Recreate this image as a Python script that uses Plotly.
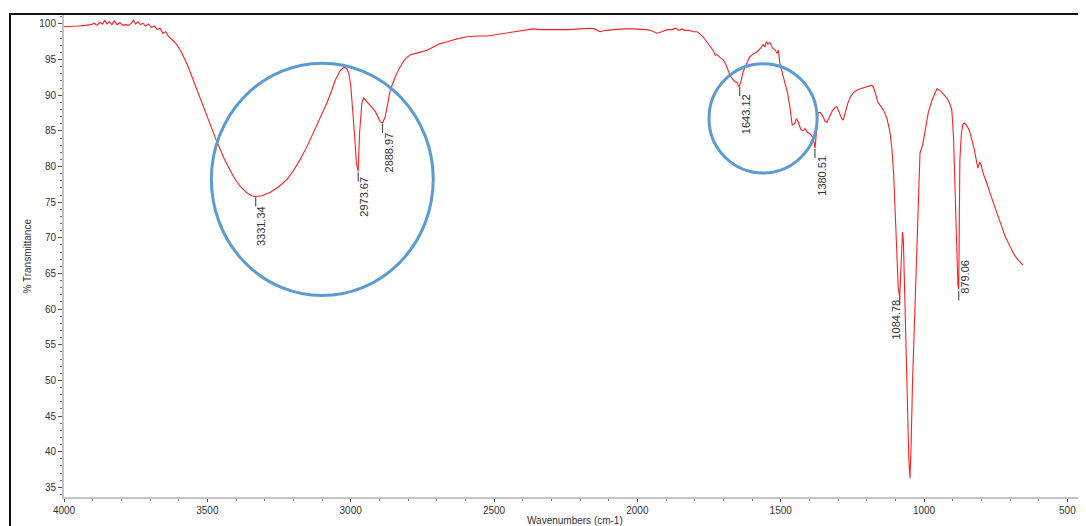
import plotly.graph_objects as go

# ---- data ----
wavenumber = [
    4000, 3975, 3950, 3925, 3905, 3895, 3885, 3875, 3865, 3858, 3850, 3842, 3833, 3825, 3815, 3805,
    3795, 3785, 3775, 3765, 3758, 3750, 3742, 3733, 3725, 3715, 3705, 3695, 3685, 3675, 3665, 3655,
    3645, 3635, 3625, 3615, 3605, 3590, 3570, 3548, 3524, 3495, 3469, 3440, 3409, 3385, 3362, 3345,
    3331, 3310, 3280, 3250, 3222, 3200, 3176, 3150, 3130, 3105, 3083, 3065, 3054, 3036, 3024, 3015,
    3007, 3000, 2995, 2987, 2980, 2974, 2969, 2961, 2955, 2948, 2940, 2932, 2926, 2914, 2905, 2897,
    2889, 2880, 2870, 2862, 2850, 2839, 2827, 2815, 2804, 2790, 2769, 2750, 2733, 2710, 2690, 2663,
    2630, 2593, 2560, 2524, 2490, 2454, 2420, 2390, 2363, 2340, 2300, 2269, 2240, 2200, 2165, 2150,
    2130, 2110, 2080, 2050, 2015, 1990, 1970, 1955, 1940, 1931, 1915, 1896, 1880, 1865, 1855, 1845,
    1835, 1820, 1805, 1792, 1782, 1771, 1760, 1746, 1736, 1728, 1722, 1712, 1701, 1690, 1677, 1668,
    1660, 1652, 1647, 1643, 1638, 1631, 1620, 1608, 1595, 1582, 1570, 1561, 1555, 1550, 1545, 1538,
    1528, 1520, 1513, 1508, 1503, 1494, 1485, 1476, 1468, 1460, 1452, 1445, 1438, 1430, 1422, 1415,
    1407, 1398, 1390, 1385, 1380, 1375, 1370, 1362, 1352, 1345, 1339, 1330, 1320, 1310, 1304, 1296,
    1288, 1282, 1275, 1265, 1255, 1245, 1230, 1215, 1200, 1190, 1182, 1175, 1168, 1161, 1150, 1140,
    1130, 1120, 1112, 1106, 1100, 1095, 1090, 1085, 1082, 1078, 1075, 1072, 1068, 1063, 1058, 1053,
    1049, 1045, 1040, 1035, 1031, 1026, 1020, 1014, 1005, 995, 985, 972, 962, 955, 945, 930,
    920, 910, 903, 897, 893, 889, 886, 882, 879, 877, 875, 870, 865, 860, 852, 842,
    835, 824, 816, 812, 806, 801, 795, 788, 778, 765, 750, 735, 716, 700, 685, 670,
    655,
]
transmittance = [
    99.6, 99.6, 99.7, 99.8, 99.9, 100.1, 99.8, 100.2, 100.0, 100.5, 100.0, 100.3, 99.9, 100.4, 99.9, 100.2,
    99.8, 99.9, 99.8, 100.1, 100.5, 100.0, 100.3, 99.9, 100.1, 99.7, 100.0, 99.5, 99.7, 99.2, 99.4, 98.7,
    98.9, 98.2, 97.9, 97.5, 97.0, 96.0, 94.3, 92.0, 89.6, 86.5, 83.7, 81.0, 78.6, 77.2, 76.3, 75.9,
    75.8, 75.9, 76.4, 77.2, 78.2, 79.4, 81.0, 83.0, 84.7, 86.8, 88.9, 90.8, 92.1, 93.5, 93.9, 93.8,
    93.1, 91.5, 89.3, 84.7, 80.5, 79.3, 84.7, 88.9, 89.6, 89.3, 89.0, 88.6, 88.3, 87.7, 87.0, 86.3,
    86.1, 86.9, 89.0, 90.7, 92.0, 93.1, 94.0, 94.8, 95.3, 95.7, 95.9, 96.1, 96.3, 96.8, 97.2, 97.5,
    97.9, 98.2, 98.3, 98.3, 98.5, 98.7, 98.9, 99.1, 99.3, 99.2, 99.2, 99.1, 99.2, 99.3, 99.4, 99.3,
    98.9, 99.1, 99.2, 99.3, 99.3, 99.3, 99.2, 99.1, 98.8, 98.7, 98.9, 99.2, 99.2, 99.4, 99.1, 99.3,
    99.1, 99.1, 98.9, 98.9, 98.6, 98.2, 97.6, 96.8, 96.3, 95.6, 95.7, 95.3, 95.0, 94.2, 92.8, 92.3,
    91.9, 91.8, 91.2, 91.4, 92.0, 93.3, 94.3, 95.4, 95.8, 96.1, 96.6, 97.1, 96.8, 97.5, 97.2, 97.4,
    96.6, 96.4, 95.9, 96.3, 94.5, 93.2, 91.9, 90.3, 88.4, 85.8, 86.0, 86.7, 86.2, 85.2, 85.0, 85.3,
    84.8, 84.6, 84.2, 83.6, 82.6, 85.0, 87.5, 87.6, 87.0, 86.3, 86.2, 86.9, 87.8, 88.3, 88.4, 87.6,
    86.8, 86.5, 87.6, 89.0, 89.9, 90.4, 90.8, 91.0, 91.1, 91.3, 91.4, 91.0, 89.8, 89.0, 88.4, 87.8,
    86.8, 85.1, 82.5, 79.0, 73.0, 67.0, 63.0, 61.7, 64.5, 69.5, 70.8, 69.5, 63.0, 54.0, 45.0, 39.0,
    36.3, 41.0, 50.0, 56.0, 61.3, 68.0, 76.0, 81.9, 83.0, 85.5, 87.6, 89.3, 90.4, 90.9, 90.7, 90.0,
    89.6, 88.8, 87.9, 84.0, 78.1, 71.0, 66.0, 63.5, 62.8, 70.0, 80.9, 84.5, 85.9, 86.1, 85.8, 85.1,
    84.0, 82.3, 80.5, 79.8, 80.6, 80.3, 79.2, 78.3, 77.3, 75.7, 74.0, 72.4, 70.1, 68.8, 67.6, 66.8,
    66.2,
]

# peak labels: label text, peak position, peak minimum, label centre
peak_labels = ["3331.34", "2973.67", "2888.97", "1643.12", "1380.51", "1084.78", "879.06"]
peak_wn = [3331.34, 2973.67, 2888.97, 1643.12, 1380.51, 1084.78, 879.06]
peak_min = [75.8, 79.3, 86.1, 91.3, 82.6, 61.9, 62.6]
label_y = [71.6, 75.8, 81.9, 87.3, 78.7, 58.5, 64.5]
label_shift = [6, 6, 6, 7, 7, -4, 6]

x_ticks = [4000, 3500, 3000, 2500, 2000, 1500, 1000, 500]
y_ticks = [35, 40, 45, 50, 55, 60, 65, 70, 75, 80, 85, 90, 95, 100]

FONT = "Liberation Sans, Arial, sans-serif"

# the page body adds an 8px offset, so the figure is sized 8px smaller
W, H = 1078, 518
ML, MR, MT, MB = 56, 0, 7, 29
PW, PH = W - ML - MR, H - MT - MB

fig = go.Figure()
fig.add_trace(go.Scatter(
    x=wavenumber, y=transmittance, mode="lines",
    line=dict(color="#ff2020", width=1.1),
    hoverinfo="skip", showlegend=False,
))

shapes = []
annotations = []
for txt, xw, ym, ly, sh in zip(peak_labels, peak_wn, peak_min, label_y, label_shift):
    shapes.append(dict(type="line", xref="x", yref="y", x0=xw, x1=xw,
                       y0=ym - 0.1, y1=ym - 1.4,
                       line=dict(color="#555555", width=1.2)))
    annotations.append(dict(x=xw, y=ly, xref="x", yref="y", text=txt,
                            showarrow=False, textangle=-90, xshift=sh,
                            font=dict(family=FONT, size=11, color="#333333")))

# highlight circles
shapes.append(dict(type="circle", xref="x", yref="y", x0=3486, x1=2712, y0=61.9, y1=94.5,
                   line=dict(color="#5b9bd5", width=3)))
shapes.append(dict(type="circle", xref="x", yref="y", x0=1750, x1=1373, y0=79.1, y1=94.4,
                   line=dict(color="#5b9bd5", width=3)))
# outer frame (left edge at page x=10, top edge at page y=14)
shapes.append(dict(type="rect", xref="paper", yref="paper",
                   x0=(2 - ML) / PW, x1=1.05, y0=-0.2, y1=1 + (MT - 6) / PH,
                   line=dict(color="#111111", width=2), layer="above"))

annotations.append(dict(x=0.5, y=-16 / PH, xref="paper", yref="paper", text="Wavenumbers (cm-1)",
                        showarrow=False, yanchor="top",
                        font=dict(family=FONT, size=10, color="#333333")))
annotations.append(dict(x=(11 - ML) / PW, y=0.5, xref="paper", yref="paper", text="% Transmittance",
                        showarrow=False, textangle=-90,
                        font=dict(family=FONT, size=10, color="#333333")))

fig.update_layout(
    width=W, height=H,
    margin=dict(l=ML, r=MR, t=MT, b=MB),
    paper_bgcolor="white", plot_bgcolor="white",
    shapes=shapes, annotations=annotations,
    font=dict(family=FONT, size=10, color="#333333"),
)
fig.update_xaxes(
    range=[4000, 435], tickvals=x_ticks, ticktext=[str(v) for v in x_ticks],
    showgrid=False, zeroline=False,
    showline=True, linecolor="#c4c4c4", linewidth=2,
    ticks="outside", ticklen=3, tickcolor="#555555", tickwidth=1,
    minor=dict(dtick=100, ticks="outside", ticklen=2, tickcolor="#777777"),
    tickfont=dict(family=FONT, size=10, color="#333333"),
)
fig.update_yaxes(
    range=[33.65, 101.25], tickvals=y_ticks, ticktext=[str(v) for v in y_ticks],
    showgrid=False, zeroline=False,
    showline=True, linecolor="#c4c4c4", linewidth=2,
    ticks="outside", ticklen=4, tickcolor="#555555", tickwidth=1,
    minor=dict(dtick=1, ticks="outside", ticklen=2, tickcolor="#777777"),
    tickfont=dict(family=FONT, size=10, color="#333333"),
)

fig.write_html("out.html")
